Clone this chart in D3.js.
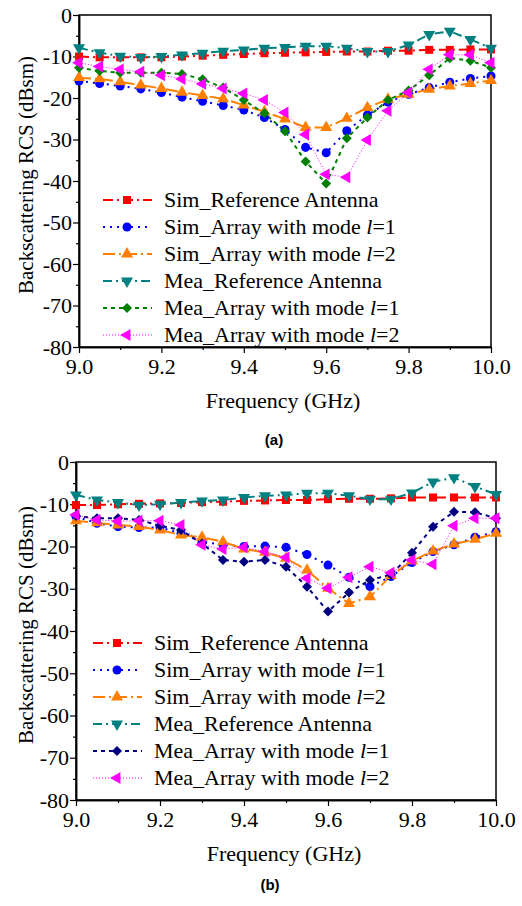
<!DOCTYPE html>
<html>
<head>
<meta charset="utf-8">
<script src="https://cdn.jsdelivr.net/npm/d3@7"></script>
<style>
  body { margin: 0; background: #fff; }
</style>
</head>
<body>
<svg id="chart"></svg>
<script>
// Frequency points (GHz)
const freq = [9.0, 9.05, 9.1, 9.15, 9.2, 9.25, 9.3, 9.35, 9.4, 9.45, 9.5,
              9.55, 9.6, 9.65, 9.7, 9.75, 9.8, 9.85, 9.9, 9.95, 10.0];

// Panel (a) series, dBsm
const simRefA = [-10, -10.2, -10.2, -10.2, -10.2, -10, -9.8, -9.6, -9.4, -9.2, -9.1,
                 -9, -8.9, -8.8, -8.8, -8.6, -8.6, -8.4, -8.4, -8.3, -8.3];
const simL1A = [-15.9, -16.5, -17.1, -17.8, -18.7, -19.8, -20.8, -21.8, -22.9, -24.7, -27.6,
                -31.9, -33.2, -27.9, -24.1, -21, -19.1, -17.5, -16.2, -15.3, -14.7];
const simL2A = [-15.1, -15.4, -16.1, -16.9, -17.7, -18.6, -19.4, -20.2, -21.7, -23.3, -25.1,
                -27.1, -27.1, -24.9, -22.3, -20.3, -19.1, -17.9, -17.1, -16.5, -15.8];
const meaRefA = [-7.9, -9.1, -9.9, -10.2, -10, -9.6, -9.2, -8.7, -8.4, -8, -7.8,
                 -7.5, -7.5, -8, -8.8, -8.8, -7.2, -4.7, -3.9, -5.9, -8];
const meaL1A = [-12.7, -13.5, -13.9, -13.9, -13.9, -14.2, -15.5, -17.5, -20.5, -23.7, -28,
                -35.3, -40.6, -29.7, -24.7, -20.5, -18.2, -14.5, -10.4, -11, -12.7];
const meaL2A = [-11.5, -12.4, -13.1, -13.7, -14.5, -15.4, -16.6, -17.7, -18.9, -20.5, -23.5,
                -28.8, -38.4, -39.1, -30.1, -23.1, -18.7, -13.1, -9.6, -9.6, -11.5];

// Panel (b) series, dBsm
const simRefB = [-10.2, -10.2, -10, -9.9, -9.8, -9.7, -9.5, -9.4, -9.2, -9.1, -9,
                 -9, -8.8, -8.7, -8.7, -8.6, -8.4, -8.4, -8.4, -8.4, -8.4];
const simL1B = [-12.9, -14.5, -15.3, -15.5, -15.5, -16.9, -18.9, -19.6, -20, -19.9, -20.2,
                -21.9, -24.4, -27.3, -29.5, -27.1, -23.8, -21.2, -19.6, -17.8, -16.5];
const simL2B = [-13.9, -14.4, -14.9, -15.3, -16.1, -17.3, -17.8, -18.9, -20.6, -21.4, -22.8,
                -25.6, -29.9, -33.5, -31.9, -26.9, -23.4, -21.1, -19.4, -18.3, -16.9];
const meaRefB = [-7.8, -9, -9.6, -10.2, -10, -9.6, -9.2, -9, -8.4, -8, -7.8,
                 -7.4, -7.4, -8, -8.8, -8.8, -7.3, -4.7, -3.7, -5.8, -7.7];
const meaL1B = [-12.8, -13.3, -13.3, -13.7, -15.1, -16.1, -19.3, -23.2, -23.6, -23.2, -24.8,
                -29.5, -35.4, -30.9, -27.9, -26.7, -21.5, -15.3, -11.8, -11.9, -13.3];
const meaL2B = [-12.5, -13.7, -14, -13.9, -13.9, -14.9, -19.6, -20.6, -20.2, -21.2, -22.6,
                -27.5, -29.9, -27.3, -24.8, -26.2, -23.2, -24.2, -15.1, -13.3, -13.3];

const seriesNames = ["Sim_Reference Antenna", "Sim_Array with mode ", "Sim_Array with mode ",
                     "Mea_Reference Antenna", "Mea_Array with mode ", "Mea_Array with mode "];
const modeLabels = [null, "1", "2", null, "1", "2"];

const xTicks = [9.0, 9.2, 9.4, 9.6, 9.8, 10.0];
const xMinor = [9.1, 9.3, 9.5, 9.7, 9.9];
const yTicks = [0, -10, -20, -30, -40, -50, -60, -70, -80];
const yMinor = [-5, -15, -25, -35, -45, -55, -65, -75];

const SERIF = "'Liberation Serif', 'Times New Roman', serif";
const W = 522, H = 906;
const svg = d3.select("#chart").attr("width", W).attr("height", H)
    .attr("font-family", SERIF);

// Marker and line styles for the six series
function styles(l1Color) {
    return [
        { color: "#ff0000", dash: "10,4,2,4", sym: d3.symbolSquare, size: 64, rot: 0 },
        { color: "#0000ff", dash: "2,5", sym: d3.symbolCircle, size: 64, rot: 0 },
        { color: "#ff8000", dash: "12,4,2,4", sym: d3.symbolTriangle, size: 62, rot: 0 },
        { color: "#008080", dash: "9,4,2,4", sym: d3.symbolTriangle, size: 62, rot: 180 },
        { color: l1Color, dash: "4,4", sym: d3.symbolSquare, size: 50, rot: 45 },
        { color: "#ff00ff", dash: "1,2", sym: d3.symbolTriangle, size: 62, rot: -90, width: 1 }
    ];
}

function drawPanel(cfg) {
    const g = svg.append("g");
    const x = d3.scaleLinear().domain([9.0, 10.0]).range([cfg.left, cfg.right]);
    const y = d3.scaleLinear().domain([-80, 0]).range([cfg.bottom, cfg.top]);

    // frame
    g.append("rect")
        .attr("x", cfg.left).attr("y", cfg.top)
        .attr("width", cfg.right - cfg.left).attr("height", cfg.bottom - cfg.top)
        .attr("fill", "none").attr("stroke", "#000").attr("stroke-width", 1.5);

    // axes, major and minor ticks
    g.append("g").attr("transform", "translate(0," + cfg.bottom + ")")
        .call(d3.axisBottom(x).tickValues(xTicks).tickFormat(d3.format(".1f"))
            .tickSize(6).tickSizeOuter(0).tickPadding(5));
    g.append("g").attr("transform", "translate(0," + cfg.bottom + ")")
        .call(d3.axisBottom(x).tickValues(xMinor).tickFormat("").tickSize(3).tickSizeOuter(0));
    g.append("g").attr("transform", "translate(" + cfg.left + ",0)")
        .call(d3.axisLeft(y).tickValues(yTicks).tickFormat(d => String(d))
            .tickSize(6).tickSizeOuter(0).tickPadding(1));
    g.append("g").attr("transform", "translate(" + cfg.left + ",0)")
        .call(d3.axisLeft(y).tickValues(yMinor).tickFormat("").tickSize(3).tickSizeOuter(0));

    g.selectAll("g").attr("font-family", SERIF).attr("font-size", 22);
    g.selectAll(".domain").attr("stroke-width", 1.5);
    g.selectAll(".tick line").attr("stroke-width", 1.2);
    g.selectAll(".tick text").attr("font-family", SERIF).attr("font-size", 22).attr("fill", "#000");

    // axis titles
    g.append("text")
        .attr("x", (cfg.left + cfg.right) / 2 - 2).attr("y", cfg.bottom + 61)
        .attr("text-anchor", "middle").attr("font-family", SERIF).attr("font-size", 22)
        .text("Frequency (GHz)");
    g.append("text")
        .attr("transform", "translate(33," + ((cfg.top + cfg.bottom) / 2 - 6) + ") rotate(-90)")
        .attr("text-anchor", "middle").attr("font-family", SERIF).attr("font-size", 21)
        .text("Backscattering RCS (dBsm)");

    // panel label
    g.append("text")
        .attr("x", cfg.labelX).attr("y", cfg.labelY)
        .attr("text-anchor", "middle")
        .attr("font-family", "'Liberation Sans', Arial, sans-serif")
        .attr("font-weight", "bold").attr("font-size", 15)
        .text(cfg.label);

    const st = styles(cfg.l1Color);
    const line = d3.line().x((d, i) => x(freq[i])).y(d => y(d));

    // lines
    cfg.series.forEach((s, k) => {
        g.append("path").datum(s)
            .attr("d", line)
            .attr("fill", "none")
            .attr("stroke", st[k].color)
            .attr("stroke-width", st[k].width || 2)
            .attr("stroke-dasharray", st[k].dash);
    });

    // markers
    cfg.series.forEach((s, k) => {
        g.append("g").selectAll("path").data(s).enter().append("path")
            .attr("d", d3.symbol().type(st[k].sym).size(st[k].size))
            .attr("transform", (d, i) => "translate(" + x(freq[i]) + "," + y(d) + ") rotate(" + st[k].rot + ")")
            .attr("fill", st[k].color);
    });

    // legend
    const lg = g.append("g");
    st.forEach((s, k) => {
        const ly = cfg.legendY + k * 27;
        lg.append("line")
            .attr("x1", cfg.legendX).attr("x2", cfg.legendX + 49)
            .attr("y1", ly).attr("y2", ly)
            .attr("stroke", s.color).attr("stroke-width", s.width || 2)
            .attr("stroke-dasharray", s.dash);
        lg.append("path")
            .attr("d", d3.symbol().type(s.sym).size(s.size))
            .attr("transform", "translate(" + (cfg.legendX + 24) + "," + ly + ") rotate(" + s.rot + ")")
            .attr("fill", s.color);
        const t = lg.append("text")
            .attr("x", cfg.legendX + 61).attr("y", ly + 7)
            .attr("font-family", SERIF).attr("font-size", 22)
            .text(seriesNames[k]);
        if (modeLabels[k]) {
            t.append("tspan").attr("font-style", "italic").text("l");
            t.append("tspan").text("=" + modeLabels[k]);
        }
    });
}

drawPanel({
    left: 79, right: 491, top: 15, bottom: 347,
    series: [simRefA, simL1A, simL2A, meaRefA, meaL1A, meaL2A],
    l1Color: "#008000",
    legendX: 103, legendY: 200,
    label: "(a)", labelX: 274, labelY: 445
});

drawPanel({
    left: 76, right: 496, top: 462, bottom: 800,
    series: [simRefB, simL1B, simL2B, meaRefB, meaL1B, meaL2B],
    l1Color: "#000080",
    legendX: 93, legendY: 643,
    label: "(b)", labelX: 270, labelY: 890
});
</script>
</body>
</html>
